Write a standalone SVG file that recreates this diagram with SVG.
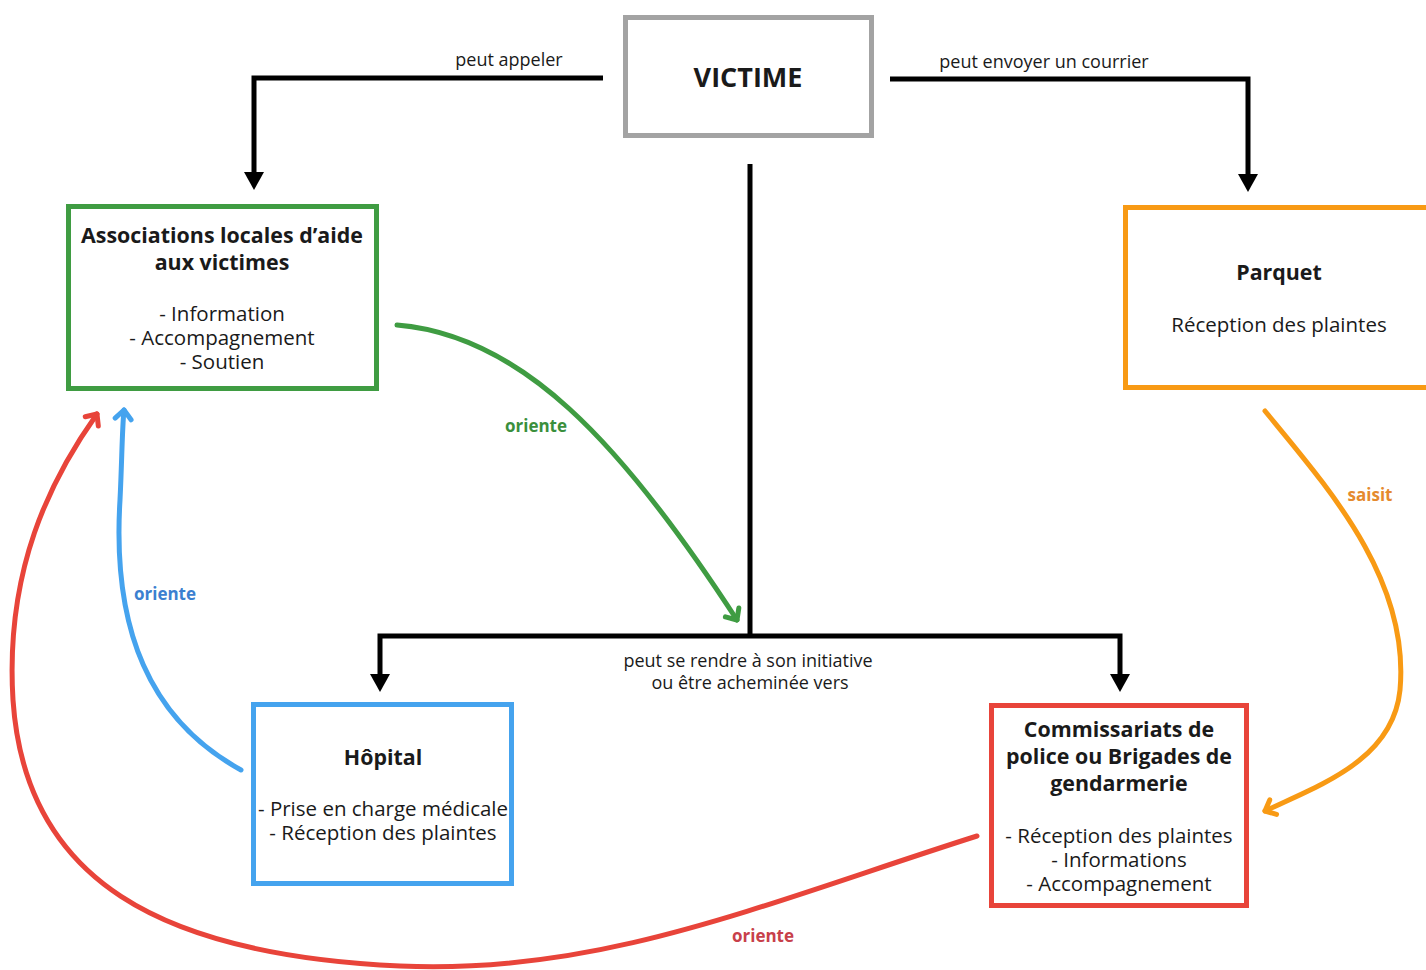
<svg xmlns="http://www.w3.org/2000/svg" width="1426" height="970" viewBox="0 0 1426 970">
<style>
text{font-family:"Open Sans","Liberation Sans",sans-serif;fill:#1a1a1a;text-anchor:middle}
.t{font-weight:bold;font-size:21.4px}
.i{font-size:20.5px}
.lbl{font-size:18px}
.box{fill:#fff;stroke-width:5}
.blk{fill:none;stroke:#000;stroke-width:5}
.cv{fill:none;stroke-width:5;stroke-linecap:round}
.cl{font-weight:bold;font-size:17px}
</style>
<defs>
<marker id="ab" viewBox="0 0 18 20" refX="0" refY="10" markerWidth="18" markerHeight="20" markerUnits="userSpaceOnUse" orient="auto-start-reverse">
<path d="M0,0 L18,10 L0,20 Z" fill="#000"/>
</marker>
<marker id="cg" viewBox="-12 -12 24 24" refX="0" refY="0" markerWidth="24" markerHeight="24" markerUnits="userSpaceOnUse" orient="auto">
<path d="M-9,-8 L0,0 L-9,8" fill="none" stroke="#3f9c42" stroke-width="5" stroke-linecap="round" stroke-linejoin="round"/>
</marker>
<marker id="cb" viewBox="-12 -12 24 24" refX="0" refY="0" markerWidth="24" markerHeight="24" markerUnits="userSpaceOnUse" orient="auto">
<path d="M-9,-8 L0,0 L-9,8" fill="none" stroke="#45a3ee" stroke-width="5" stroke-linecap="round" stroke-linejoin="round"/>
</marker>
<marker id="cr" viewBox="-12 -12 24 24" refX="0" refY="0" markerWidth="24" markerHeight="24" markerUnits="userSpaceOnUse" orient="auto">
<path d="M-9,-8 L0,0 L-9,8" fill="none" stroke="#e8443a" stroke-width="5" stroke-linecap="round" stroke-linejoin="round"/>
</marker>
<marker id="co" viewBox="-12 -12 24 24" refX="0" refY="0" markerWidth="24" markerHeight="24" markerUnits="userSpaceOnUse" orient="auto">
<path d="M-9,-8 L0,0 L-9,8" fill="none" stroke="#f89a14" stroke-width="5" stroke-linecap="round" stroke-linejoin="round"/>
</marker>
</defs>
<rect width="1426" height="970" fill="#fff"/>

<g id="connectors">
<path class="blk" d="M603,78 H254 V172" marker-end="url(#ab)"/>
<path class="blk" d="M890,79 H1248 V174" marker-end="url(#ab)"/>
<path class="blk" d="M750,164 V636"/>
<path class="blk" d="M380,674 V636 H1120 V674" marker-start="url(#ab)" marker-end="url(#ab)"/>
<text class="lbl" x="509" y="66">peut appeler</text>
<text class="lbl" x="1044" y="68">peut envoyer un courrier</text>
<text class="lbl" x="748" y="667">peut se rendre à son initiative</text>
<text class="lbl" x="750" y="689">ou être acheminée vers</text>

<path class="cv" stroke="#3f9c42" d="M397,325 C520,335 620,440 737,620" marker-end="url(#cg)"/>
<text class="cl" x="536" y="432" style="fill:#3a8f3c">oriente</text>

<path class="cv" stroke="#45a3ee" d="M241,770 C150,720 112,630 120,500 C122,460 122,430 124,410" marker-end="url(#cb)"/>
<text class="cl" x="165" y="600" style="fill:#3b80d0">oriente</text>

<path class="cv" stroke="#e8443a" d="M977,836 C760,905 600,975 400,966 C160,955 25,880 13,700 C5,570 50,480 97,414" marker-end="url(#cr)"/>
<text class="cl" x="763" y="942" style="fill:#c8404a">oriente</text>

<path class="cv" stroke="#f89a14" d="M1265,411 C1330,490 1410,580 1400,690 C1393,760 1320,785 1265,811" marker-end="url(#co)"/>
<text class="cl" x="1370" y="501" style="fill:#e58a2e">saisit</text>
</g>

<g id="victime">
<rect class="box" x="625.5" y="17.5" width="246" height="118" stroke="#a3a3a3"/>
<text x="748" y="87" style="font-weight:bold;font-size:27px">VICTIME</text>
</g>

<g id="associations">
<rect class="box" x="68.5" y="206.5" width="308" height="182" stroke="#3f9c42"/>
<text class="t" x="222" y="243">Associations locales d’aide</text>
<text class="t" x="222" y="270">aux victimes</text>
<text class="i" x="222" y="321">- Information</text>
<text class="i" x="222" y="345">- Accompagnement</text>
<text class="i" x="222" y="369">- Soutien</text>
</g>

<g id="parquet">
<rect class="box" x="1125.5" y="207.5" width="310" height="180" stroke="#f89a14"/>
<text class="t" x="1279" y="280">Parquet</text>
<text class="i" x="1279" y="332">Réception des plaintes</text>
</g>

<g id="hopital">
<rect class="box" x="253.5" y="704.5" width="258" height="179" stroke="#45a3ee"/>
<text class="t" x="383" y="765">Hôpital</text>
<text class="i" x="383" y="816">- Prise en charge médicale</text>
<text class="i" x="383" y="840">- Réception des plaintes</text>
</g>

<g id="commissariats">
<rect class="box" x="991.5" y="705.5" width="255" height="200" stroke="#e8443a"/>
<text class="t" x="1119" y="737">Commissariats de</text>
<text class="t" x="1119" y="764">police ou Brigades de</text>
<text class="t" x="1119" y="791">gendarmerie</text>
<text class="i" x="1119" y="843">- Réception des plaintes</text>
<text class="i" x="1119" y="867">- Informations</text>
<text class="i" x="1119" y="891">- Accompagnement</text>
</g>
</svg>
